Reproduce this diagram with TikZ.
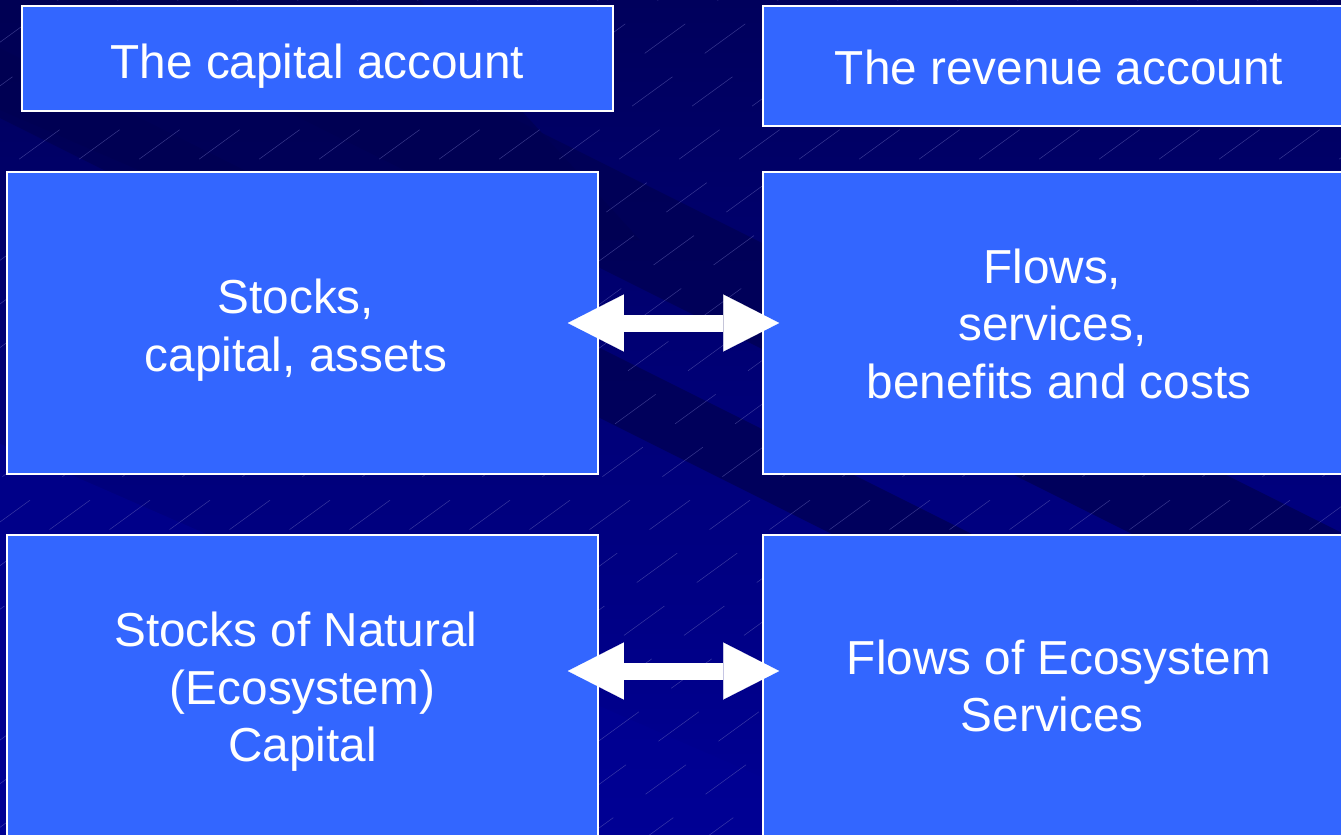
\documentclass[tikz,border=0pt]{standalone}
\usepackage{fontspec}
\setmainfont{Liberation Sans}
\usetikzlibrary{arrows.meta}
\definecolor{bgtop}{HTML}{00005C}
\definecolor{bgbottom}{HTML}{000094}
\definecolor{bgdark}{HTML}{000052}
\definecolor{boxblue}{HTML}{3366FF}
\definecolor{hatchcol}{HTML}{7070C0}
% lower a centred block of lines by #1 without changing its reported size
\newcommand\loweredlines[2]{\raisebox{-#1}[\height][\depth]{\begin{tabular}{@{}c@{}}#2\end{tabular}}}
\newcommand\trail{\kern13.3pt}
\begin{document}
\begin{tikzpicture}[x=1pt,y=-1pt,
  panel/.style={draw=white, line width=1.6pt, fill=boxblue, text=white,
    align=center, inner sep=0pt, font=\fontsize{47.7}{57.5}\selectfont},
  bigarrow/.style={draw=white, line width=17pt,
    {Triangle[length=56pt,width=57pt,line width=0.1pt]}-{Triangle[length=56pt,width=57pt,line width=0.1pt]}},
  hatch/.style={hatchcol, opacity=.5, line width=.5pt, dash pattern=on 50pt off 40pt},
  band/.style={fill=bgdark, opacity=.75}]
\clip (0,0) rectangle (1341,835);
\useasboundingbox (0,0) rectangle (1341,835);
% background
\shade[top color=bgtop, bottom color=bgbottom] (0,0) rectangle (1341,835);
\fill[band] (0,0) -- (420,0) -- (640,240) -- (300,240) -- (0,110) -- cycle;
\fill[band] (-100,-188) -- (1500,612) -- (1500,718) -- (-100,-82) -- cycle;
\fill[band] (-100,-2) -- (1500,798) -- (1500,868) -- (-100,68) -- cycle;
\fill[bgbottom, opacity=.5] (-100,400) -- (1500,1100) -- (1500,1300) -- (-100,1300) -- cycle;
\foreach \c in {-1300,-1240,...,1340}
  \draw[hatch] (\c,900) -- ++(1300,-945);
% panels
\node[panel, minimum width=591pt, minimum height=105pt] (capacc) at (317.5,58.5)
  {\loweredlines{8.5pt}{The capital account}};
\node[panel, minimum width=592pt, minimum height=120pt] (revacc) at (1059,66)
  {\loweredlines{7pt}{The revenue account}};
\node[panel, minimum width=591pt, minimum height=302pt] (stocks) at (302.5,323)
  {\loweredlines{8pt}{Stocks,\trail\\capital, assets\trail}};
\node[panel, minimum width=592pt, minimum height=302pt] (flows) at (1059,323)
  {\loweredlines{6pt}{Flows,\trail\\services,\trail\\benefits and costs}};
\node[panel, minimum width=591pt, minimum height=305pt] (natcap) at (302.5,687.5)
  {\loweredlines{5pt}{Stocks of Natural\trail\\(Ecosystem)\\Capital}};
\node[panel, minimum width=592pt, minimum height=305pt] (ecoserv) at (1059,687.5)
  {\loweredlines{4pt}{Flows of Ecosystem\\Services\trail}};
% arrows
\draw[bigarrow] ([xshift=-31pt]stocks.east) -- ([xshift=17pt]flows.west);
\draw[bigarrow] ([xshift=-31pt,yshift=16.5pt]natcap.east) -- ([xshift=17pt,yshift=16.5pt]ecoserv.west);
\end{tikzpicture}
\end{document}
